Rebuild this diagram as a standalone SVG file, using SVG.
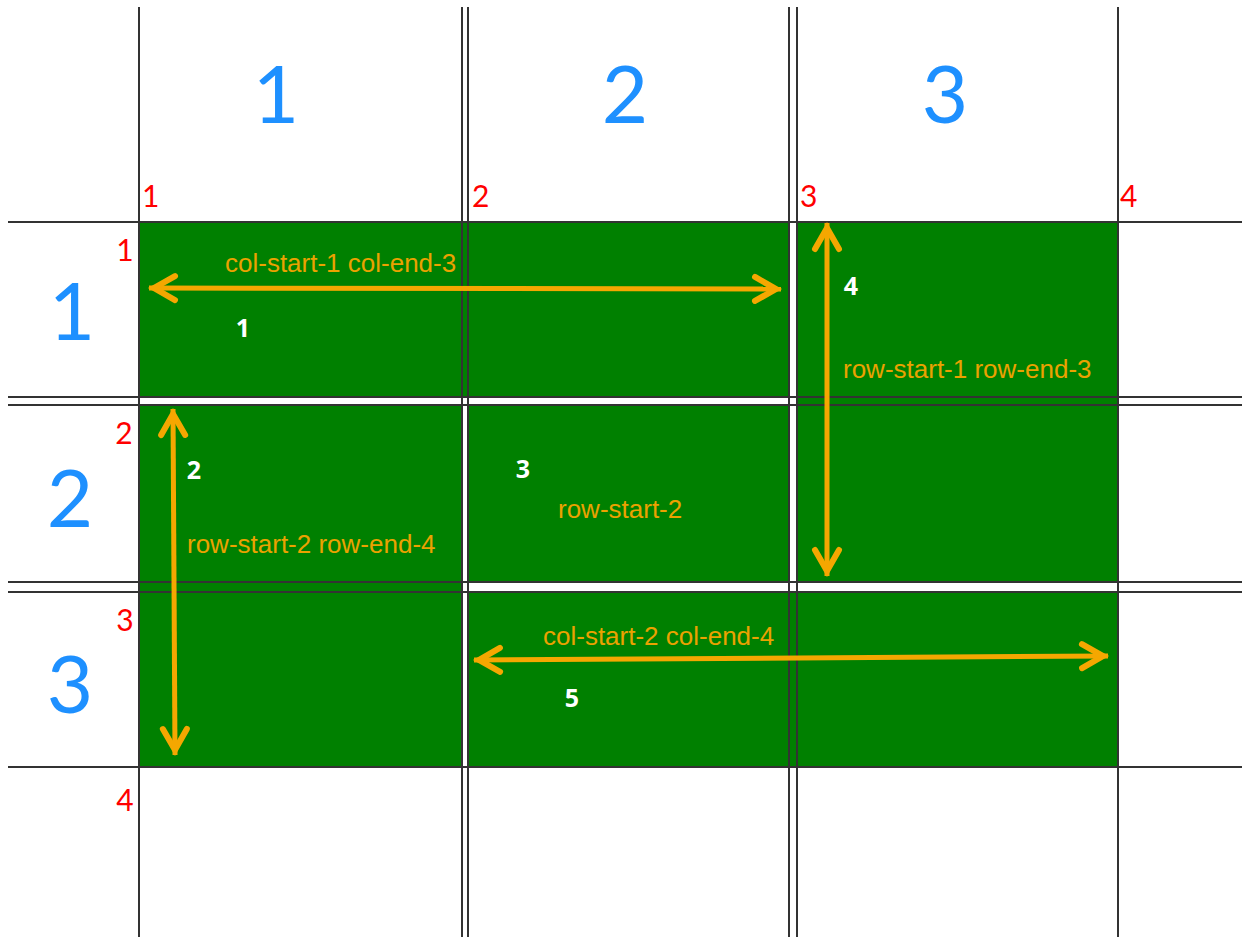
<svg xmlns="http://www.w3.org/2000/svg" width="1242" height="937" viewBox="0 0 1242 937">
  <style>
    .cell { fill: #008000; }
    .grid line { stroke: #333333; stroke-width: 2; }
    .track { font-family: Lato, "Liberation Sans", sans-serif; fill: #1e90ff; font-size: 80px; text-anchor: middle; }
    .lineno { font-family: Lato, "Liberation Sans", sans-serif; fill: #ff0000; font-size: 30px; }
    .mid { text-anchor: middle; }
    .num { font-family: "Open Sans", "DejaVu Sans", sans-serif; font-weight: bold; fill: #ffffff; font-size: 25px; text-anchor: middle; }
    .lbl { font-family: "Liberation Sans", Arial, sans-serif; fill: #eba200; font-size: 26px; }
    .arrow { stroke: #f5a700; stroke-width: 5; fill: none; marker-start: url(#head); marker-end: url(#head); }
  </style>
  <defs>
    <marker id="head" markerUnits="userSpaceOnUse" viewBox="0 0 30 30" markerWidth="30" markerHeight="30" refX="32" refY="15" orient="auto-start-reverse" overflow="visible">
      <path d="M6,3 L27,15 L6,27" fill="none" stroke="#f5a700" stroke-width="6" stroke-linejoin="miter" stroke-linecap="round"/>
    </marker>
  </defs>
  <rect width="1242" height="937" fill="#ffffff"/>

  <g id="item1"><rect class="cell" x="139" y="222" width="650" height="175"/></g>
  <g id="item4"><rect class="cell" x="797" y="222" width="321" height="360"/></g>
  <g id="item2"><rect class="cell" x="139" y="405" width="323" height="362"/></g>
  <g id="item3"><rect class="cell" x="468" y="405" width="321" height="177"/></g>
  <g id="item5"><rect class="cell" x="468" y="592" width="650" height="175"/></g>

  <g id="grid-lines" class="grid">
    <line x1="139" y1="7" x2="139" y2="937"/>
    <line x1="462" y1="7" x2="462" y2="937"/>
    <line x1="468" y1="7" x2="468" y2="937"/>
    <line x1="789" y1="7" x2="789" y2="937"/>
    <line x1="797" y1="7" x2="797" y2="937"/>
    <line x1="1118" y1="7" x2="1118" y2="937"/>
    <line x1="8" y1="222" x2="1242" y2="222"/>
    <line x1="8" y1="397" x2="1242" y2="397"/>
    <line x1="8" y1="405" x2="1242" y2="405"/>
    <line x1="8" y1="582" x2="1242" y2="582"/>
    <line x1="8" y1="592" x2="1242" y2="592"/>
    <line x1="8" y1="767" x2="1242" y2="767"/>
  </g>

  <g id="track-labels">
    <text class="track" x="276" y="123">1</text>
    <text class="track" x="625" y="123">2</text>
    <text class="track" x="945" y="123">3</text>
    <text class="track" x="72" y="340">1</text>
    <text class="track" x="70" y="527">2</text>
    <text class="track" x="70" y="713">3</text>
  </g>

  <g id="line-numbers">
    <text class="lineno" x="142" y="207">1</text>
    <text class="lineno" x="472" y="207">2</text>
    <text class="lineno" x="800" y="207">3</text>
    <text class="lineno" x="1120" y="207">4</text>
    <text class="lineno mid" x="125" y="261">1</text>
    <text class="lineno mid" x="124" y="444">2</text>
    <text class="lineno mid" x="125" y="631">3</text>
    <text class="lineno mid" x="125" y="811">4</text>
  </g>

  <g id="connectors">
    <line class="arrow" x1="149" y1="288" x2="781" y2="289"/>
    <line class="arrow" x1="827" y1="223" x2="827" y2="576"/>
    <line class="arrow" x1="173" y1="409" x2="175" y2="755"/>
    <line class="arrow" x1="474" y1="660" x2="1108" y2="656"/>
  </g>

  <g id="item-labels">
    <text class="num" x="243" y="337">1</text>
    <text class="lbl" x="225" y="272">col-start-1 col-end-3</text>
    <text class="num" x="851" y="295">4</text>
    <text class="lbl" x="843" y="378">row-start-1 row-end-3</text>
    <text class="num" x="194" y="479">2</text>
    <text class="lbl" x="187" y="553">row-start-2 row-end-4</text>
    <text class="num" x="523" y="478">3</text>
    <text class="lbl" x="558" y="518">row-start-2</text>
    <text class="lbl" x="543" y="645">col-start-2 col-end-4</text>
    <text class="num" x="572" y="707">5</text>
  </g>
</svg>
